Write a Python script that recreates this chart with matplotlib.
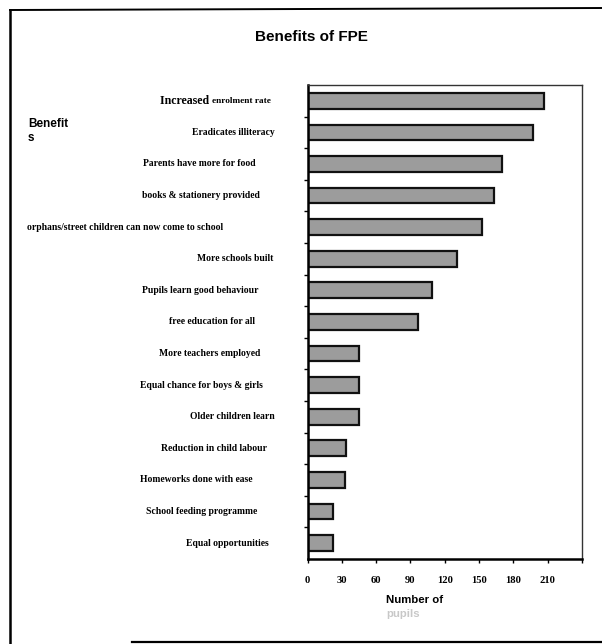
import matplotlib
matplotlib.use("Agg")
import matplotlib.pyplot as plt
from matplotlib.transforms import blended_transform_factory
from matplotlib.lines import Line2D

# ---- data ----
benefits = [
    "enrolment rate",
    "Eradicates illiteracy",
    "Parents have more for food",
    "books & stationery provided",
    "orphans/street children can now come to school",
    "More schools built",
    "Pupils learn good behaviour",
    "free education for all",
    "More teachers employed",
    "Equal chance for boys & girls",
    "Older children learn",
    "Reduction in child labour",
    "Homeworks done with ease",
    "School feeding programme",
    "Equal opportunities",
]
first_word = "Increased"
pupils = [207, 197, 170, 163, 153, 131, 109, 97, 45, 45, 45, 34, 33, 22, 22]
xtick_values = [0, 30, 60, 90, 120, 150, 180, 210, 240]
xtick_labels = ["0", "30", "60", "90", "120", "150", "180", "210", ""]

# ---- layout (label right edges in pixels) ----
label_right_px = [271, 275, 256, 260, 223, 273, 258, 255, 260, 263, 275, 267, 252, 257, 269]

W, H = 602, 644
fig = plt.figure(figsize=(W / 100, H / 100), dpi=100)
fig.patch.set_facecolor("white")

ax_left, ax_right = 307.5, 582
ax_top, ax_bot = 85, 559
ax = fig.add_axes([ax_left / W, 1 - ax_bot / H, (ax_right - ax_left) / W, (ax_bot - ax_top) / H])

ypos = list(range(len(benefits)))
ax.barh(ypos, pupils, height=0.5, color="#9c9c9c", edgecolor="#111111", linewidth=1.6)

ax.set_xlim(0, 240)
ax.set_ylim(len(benefits) - 0.5, -0.5)

ax.set_xticks(xtick_values)
ax.set_xticklabels(xtick_labels, family="Liberation Serif", fontweight="bold", fontsize=7.6)
ax.tick_params(axis="x", direction="out", length=3, width=1, pad=9)

ax.set_yticks([i + 0.5 for i in range(len(benefits) - 1)])
ax.set_yticklabels([])
ax.tick_params(axis="y", direction="out", length=3, width=1)

for side in ["left", "bottom"]:
    ax.spines[side].set_linewidth(1.8)
    ax.spines[side].set_color("black")
for side in ["top", "right"]:
    ax.spines[side].set_linewidth(1.0)
    ax.spines[side].set_color("#333333")

trans = blended_transform_factory(fig.transFigure, ax.transData)
for i, (lab, rx) in enumerate(zip(benefits, label_right_px)):
    t = ax.text(rx / W, i, lab, transform=trans, ha="right", va="center",
                family="Liberation Serif", fontweight="bold", fontsize=6.9 if i else 6.7,
                clip_on=False)
    if i == 0:
        ax.annotate(first_word + " ", xy=(0, 0.45), xycoords=t, ha="right", va="center",
                    family="Liberation Serif", fontweight="bold", fontsize=8.6,
                    annotation_clip=False)

# titles / axis titles
fig.text(311 / W, 1 - 37 / H, "Benefits of FPE", ha="center", va="center",
         family="Liberation Sans", fontweight="bold", fontsize=11)
fig.text(28 / W, 1 - 124 / H, "Benefit", ha="left", va="center",
         family="Liberation Sans", fontweight="bold", fontsize=8.5)
fig.text(28 / W, 1 - 138 / H, "s", ha="left", va="center",
         family="Liberation Sans", fontweight="bold", fontsize=8.5)
fig.text(386 / W, 1 - 600 / H, "Number of", ha="left", va="center",
         family="Liberation Sans", fontweight="bold", fontsize=8.2)
fig.text(386 / W, 1 - 614 / H, "pupils", ha="left", va="center",
         family="Liberation Sans", fontweight="bold", fontsize=8.2, color="#c8c8c8")

# outer frame lines
fig.add_artist(Line2D([10 / W, 10 / W], [1 - 10 / H, 0], transform=fig.transFigure,
                      color="black", linewidth=1.8))
fig.add_artist(Line2D([10 / W, 1.0], [1 - 10 / H, 1 - 8 / H], transform=fig.transFigure,
                      color="black", linewidth=1.4))
fig.add_artist(Line2D([132 / W, 1.0], [1 - 642 / H, 1 - 642 / H], transform=fig.transFigure,
                      color="black", linewidth=1.6))

fig.savefig("out.png", dpi=100, facecolor="white")
